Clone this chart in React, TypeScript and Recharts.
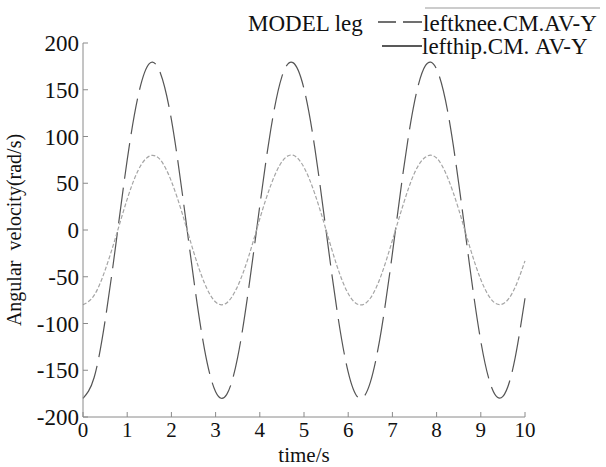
import { LineChart, Line, XAxis, YAxis, Label } from 'recharts'

const times = [
  0, 0.25, 0.5, 0.75, 1, 1.25, 1.5, 1.75, 2, 2.25, 2.5, 2.75, 3, 3.25, 3.5, 3.75, 4,
  4.25, 4.5, 4.75, 5, 5.25, 5.5, 5.75, 6, 6.25, 6.5, 6.75, 7, 7.25, 7.5, 7.75, 8,
  8.25, 8.5, 8.75, 9, 9.25, 9.5, 9.75, 10,
]
const knee = [
  -180, -158, -97, -13, 75, 144, 178, 168, 118, 38, -51, -128, -173, -176, -136, -62, 26,
  108, 164, 179, 151, 86, -1, -87, -152, -180, -163, -107, -25, 64, 137, 176, 172,
  127, 50, -39, -119, -169, -178, -143, -73,
]
const hip = [
  -80, -70, -43, -6, 33, 64, 79, 75, 52, 17, -23, -57, -77, -78, -60, -28, 12,
  48, 73, 80, 67, 38, 0, -39, -68, -80, -73, -48, -11, 28, 61, 78, 77,
  56, 22, -18, -53, -75, -79, -64, -33,
]
const xTicks = [0, 1, 2, 3, 4, 5, 6, 7, 8, 9, 10]
const yTicks = [-200, -150, -100, -50, 0, 50, 100, 150, 200]

const data = times.map((t, i) => ({ t, knee: knee[i], hip: hip[i] }))

const font = '"Liberation Serif", "Times New Roman", serif'
const axisColor = '#8a8a8a'

export default function App() {
  return (
    <div style={{ position: 'absolute', left: 0, top: 0, width: 606, height: 467, background: '#fff', fontFamily: font }}>
      <LineChart width={606} height={467} data={data} margin={{ top: 43, right: 81, bottom: 0, left: 0 }}>
        <XAxis
          dataKey="t"
          type="number"
          domain={[0, 10]}
          ticks={xTicks}
          tickSize={-5}
          tickMargin={10}
          height={50}
          stroke={axisColor}
          tick={{ fill: '#111', fontSize: 21, fontFamily: font }}
          interval={0}
        >
          <Label value="time/s" position="insideBottom" offset={5} fill="#111" fontSize={21} fontFamily={font} />
        </XAxis>
        <YAxis
          type="number"
          domain={[-200, 200]}
          ticks={yTicks}
          tickSize={-5}
          tickMargin={9}
          width={83}
          stroke={axisColor}
          tick={{ fill: '#111', fontSize: 23, fontFamily: font }}
          interval={0}
        >
          <Label
            value={'Angular\u00A0 velocity(rad/s)'}
            angle={-90}
            position="insideLeft"
            offset={14}
            style={{ textAnchor: 'middle' }}
            fill="#111"
            fontSize={20}
            fontFamily={font}
          />
        </YAxis>
        <Line
          type="natural"
          dataKey="knee"
          stroke="#555"
          strokeWidth={1.2}
          strokeDasharray="36 9"
          dot={false}
          isAnimationActive={false}
        />
        <Line
          type="natural"
          dataKey="hip"
          stroke="#a5a5a5"
          strokeWidth={1.2}
          strokeDasharray="4 2"
          dot={false}
          isAnimationActive={false}
        />
      </LineChart>
      <svg width={606} height={60} style={{ position: 'absolute', left: 0, top: 0 }}>
        <line x1={425} y1={8} x2={600} y2={8} stroke="#999" strokeWidth={1} />
        <text x={248} y={31} fontSize={23} fontFamily={font} fill="#111">MODEL leg</text>
        <line x1={378} y1={22} x2={396} y2={22} stroke="#222" strokeWidth={1.3} />
        <line x1={403} y1={22} x2={422} y2={22} stroke="#222" strokeWidth={1.3} />
        <text x={423} y={31} fontSize={23} fontFamily={font} fill="#111">leftknee.CM.AV-Y</text>
        <line x1={382} y1={46} x2={422} y2={46} stroke="#222" strokeWidth={1.3} />
        <text x={422} y={54} fontSize={23} fontFamily={font} fill="#111">{'lefthip.CM.\u00A0AV-Y'}</text>
      </svg>
    </div>
  )
}
